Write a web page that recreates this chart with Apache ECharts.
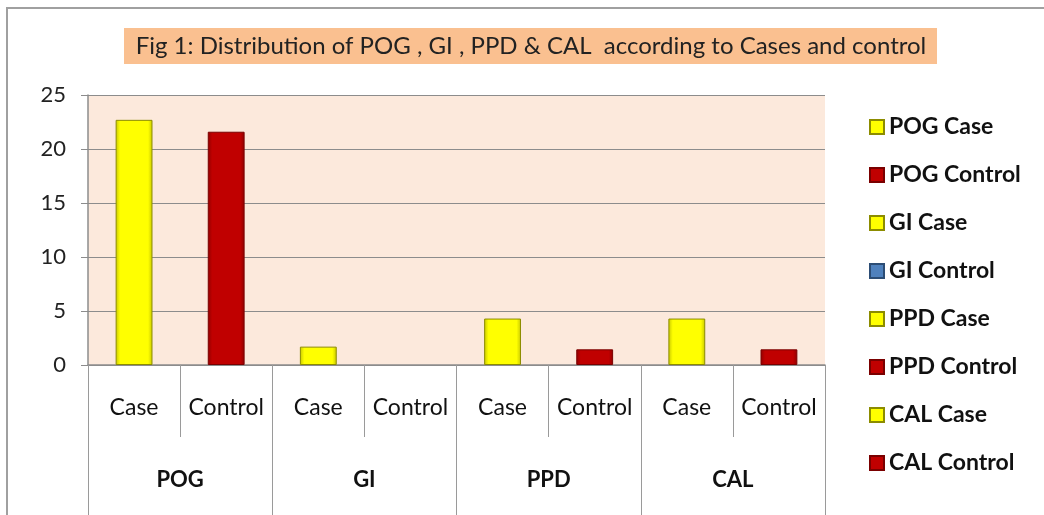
<!DOCTYPE html>
<html><head><meta charset="utf-8">
<script src="https://cdn.jsdelivr.net/npm/echarts@6/dist/echarts.min.js"></script>
<style>html,body{margin:0;padding:0;background:#fff}#c{width:1044px;height:515px}</style>
</head><body><div id="c"></div>
<script>
const titleText = 'Fig 1: Distribution of POG , GI , PPD & CAL  according to Cases and control';
const categories = ['Case','Control','Case','Control','Case','Control','Case','Control'];
const groups = ['POG','GI','PPD','CAL'];
const seriesNames = ['POG Case','POG Control','GI Case','GI Control','PPD Case','PPD Control','CAL Case','CAL Control'];
const values = [22.7, 21.6, 1.7, 0, 4.3, 1.45, 4.3, 1.45];
const yTicks = [0, 5, 10, 15, 20, 25];

const colors = ['#FFFF00','#C00000','#FFFF00','#4F81BD','#FFFF00','#C00000','#FFFF00','#C00000'];
const borders = ['#8C8C00','#7A0000','#8C8C00','#2C4D75','#8C8C00','#7A0000','#8C8C00','#7A0000'];
const darks = ['#C8C800','#900000','#C8C800','#3A6595','#C8C800','#900000','#C8C800','#900000'];
function grad(c, dark){
  return new echarts.graphic.LinearGradient(0,0,1,0,[
    {offset:0,color:dark},{offset:0.12,color:c},{offset:0.88,color:c},{offset:1,color:dark}]);
}

const chart = echarts.init(document.getElementById('c'));
const FONT = 'Lato';
chart.setOption({
  animation:false,
  textStyle:{fontFamily:FONT},
  graphic:[
    {type:'rect',shape:{x:7,y:8,width:1040,height:510},style:{fill:'none',stroke:'#A0A0A0',lineWidth:2},z:-10},
    {type:'rect',shape:{x:124,y:28,width:813,height:36},style:{fill:'#FAC090'},z:1},
    {type:'text',x:531,y:46,style:{text:titleText,fontFamily:FONT,fontSize:24,fill:'#222',align:'center',verticalAlign:'middle'},z:2}
  ],
  legend:{
    orient:'vertical',left:864,top:110,
    itemWidth:14,itemHeight:14,itemGap:24,icon:'rect',
    textStyle:{fontFamily:FONT,fontSize:23,fontWeight:'bold',color:'#111',lineHeight:24,padding:[0,0,0,0]},
    data:seriesNames
  },
  grid:{left:88,right:219,top:95,bottom:150,show:true,backgroundColor:'#FCE9DC',borderWidth:0},
  xAxis:[
    {type:'category',data:categories,position:'bottom',
     axisLine:{lineStyle:{color:'#8C8C8C',width:1.5}},
     axisTick:{show:true,interval:0,length:72,lineStyle:{color:'#9A9A9A'}},
     axisLabel:{interval:0,margin:31,fontSize:23,color:'#111',fontFamily:FONT}},
    {type:'category',data:groups,position:'bottom',
     axisLine:{show:false},
     axisTick:{show:true,interval:0,length:150,lineStyle:{color:'#9A9A9A'}},
     axisLabel:{interval:0,margin:104,fontSize:22,color:'#111',fontWeight:'bold',fontFamily:FONT}}
  ],
  yAxis:{type:'value',min:yTicks[0],max:yTicks[yTicks.length-1],interval:5,
    axisLine:{show:true,lineStyle:{color:'#8C8C8C',width:1.5}},
    axisTick:{show:true,length:7,lineStyle:{color:'#8C8C8C'}},
    splitLine:{lineStyle:{color:'#8C8C8C',width:1.2}},
    axisLabel:{fontSize:22,color:'#222',margin:22,fontFamily:FONT}},
  series: seriesNames.map((n,i)=>({
    name:n,type:'bar',stack:'all',barWidth:'40%',xAxisIndex:0,
    data:categories.map((_,j)=> j===i ? (values[i] > 0 ? values[i] : {value:values[i],itemStyle:{borderWidth:0}}) : null),
    itemStyle:{color:grad(colors[i],darks[i]),borderColor:borders[i],borderWidth:1}
  }))
});
</script></body></html>
